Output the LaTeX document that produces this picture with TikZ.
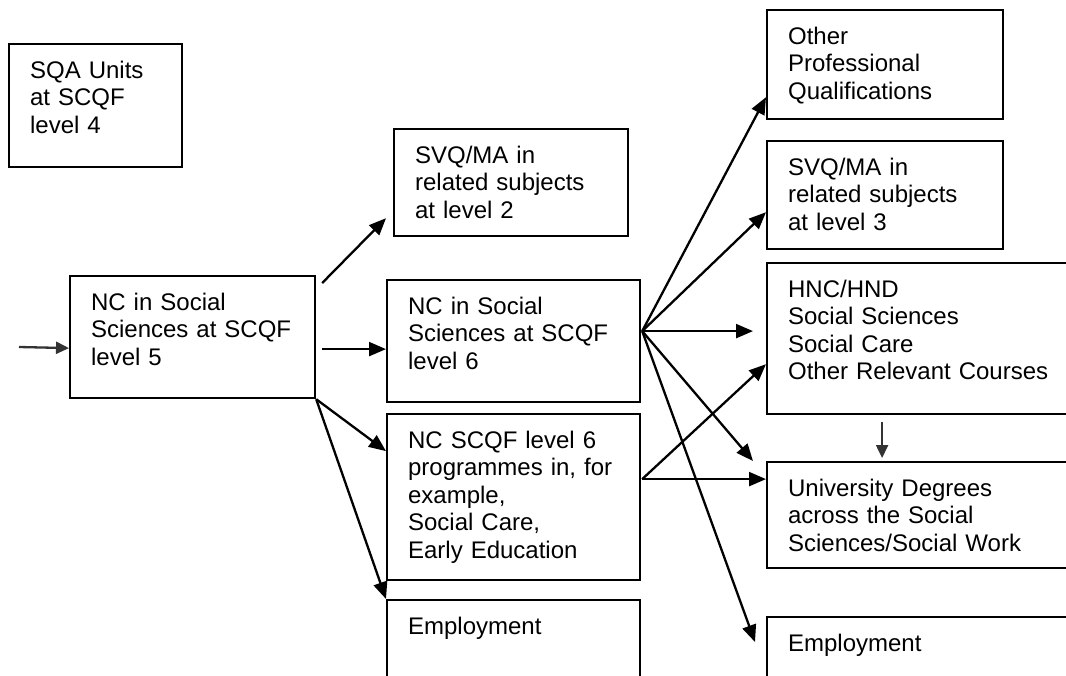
\documentclass[tikz,border=0pt]{standalone}
\usepackage{fontspec}
\setmainfont{Liberation Sans}
\usetikzlibrary{arrows.meta}

\begin{document}
\begin{tikzpicture}[x=1pt,y=-1pt,
        qual/.style={draw,line width=2.2pt,anchor=north west,align=left,
            inner xsep=21pt,inner ysep=0pt,text height=34pt,
            font=\fontsize{24}{27.5}\selectfont},
        link/.style={line width=2.3pt,-{Triangle[length=17pt,width=14pt]}},
        feed/.style={line width=2.3pt,black!80,-{Triangle[length=13pt,width=12pt]}}]
        % page
        \clip (0,0) rectangle (1066,675);
        \fill[white] (0,0) rectangle (1066,675);

        % left column
        \node[qual,text width=131pt,text depth=89pt] (sqa) at (8,43) {SQA Units\\at SCQF\\level 4};
        \node[qual,text width=203pt,text depth=88pt] (nc5) at (69,275) {NC in Social\\Sciences at SCQF\\level 5};

        % middle column
        \node[qual,text width=192pt,text depth=73pt] (svq2) at (393,128) {SVQ/MA in\\related subjects\\at level 2};
        \node[qual,text width=211pt,text depth=88pt] (nc6) at (386,279) {NC in Social\\Sciences at SCQF\\level 6};
        \node[qual,text width=211pt,text depth=132pt] (prog6) at (386,413) {NC SCQF level 6\\programmes in, for\\example,\\Social Care,\\Early Education};
        \node[qual,text width=211pt,text depth=76pt] (emp1) at (386,599) {Employment};

        % right column
        \node[qual,text width=194pt,text depth=75pt] (other) at (766,9) {Other\\Professional\\Qualifications};
        \node[qual,text width=194pt,text depth=74pt] (svq3) at (766,140) {SVQ/MA in\\related subjects\\at level 3};
        \node[qual,text width=288pt,text depth=117pt] (hnc) at (766,262) {HNC/HND\\Social Sciences\\Social Care\\Other Relevant Courses};
        \node[qual,text width=288pt,text depth=72pt] (uni) at (766,461) {University Degrees\\across the Social\\Sciences/Social Work};
        \node[qual,text width=288pt,text depth=76pt] (emp2) at (766,616) {Employment};

        % arrows out of level 5
        \coordinate (entry) at (19,347);
        \draw[feed] (entry) -- ([yshift=-11pt]nc5.west);
        \draw[link] ([xshift=6pt,yshift=-8pt]nc5.north east) -- ([xshift=-7pt,yshift=19pt]svq2.south west);
        \draw[link] ([xshift=6pt,yshift=-12pt]nc5.east) -- ([yshift=-8pt]nc6.west);
        \draw[link] (nc5.south east) -- ([yshift=46pt]prog6.west);
        \draw[link] (nc5.south east) -- (emp1.north west);

        % arrows out of level 6
        \coordinate (fan6) at ([xshift=1pt,yshift=10pt]nc6.east);
        \draw[link] (fan6) -- ([yshift=23pt]other.south west);
        \draw[link] (fan6) -- ([yshift=38pt]svq3.south west);
        \draw[link,shorten >=13pt] (fan6) -- (fan6 -| hnc.west);
        \draw[link] (fan6) -- ([xshift=-13pt]uni.north west);
        \draw[link] (fan6) -- ([xshift=-11pt,yshift=-26pt]emp2.north west);

        \coordinate (fanp) at ([xshift=1pt,yshift=18pt]prog6.east);
        \draw[link] (fanp) -- ([yshift=51pt]hnc.south west);
        \draw[link] (fanp) -- (fanp -| uni.west);

        % HNC on to degree
        \draw[feed] ([xshift=-50pt,yshift=-7pt]hnc.south) -- ([xshift=-50pt,yshift=3pt]uni.north);
\end{tikzpicture}
\end{document}
